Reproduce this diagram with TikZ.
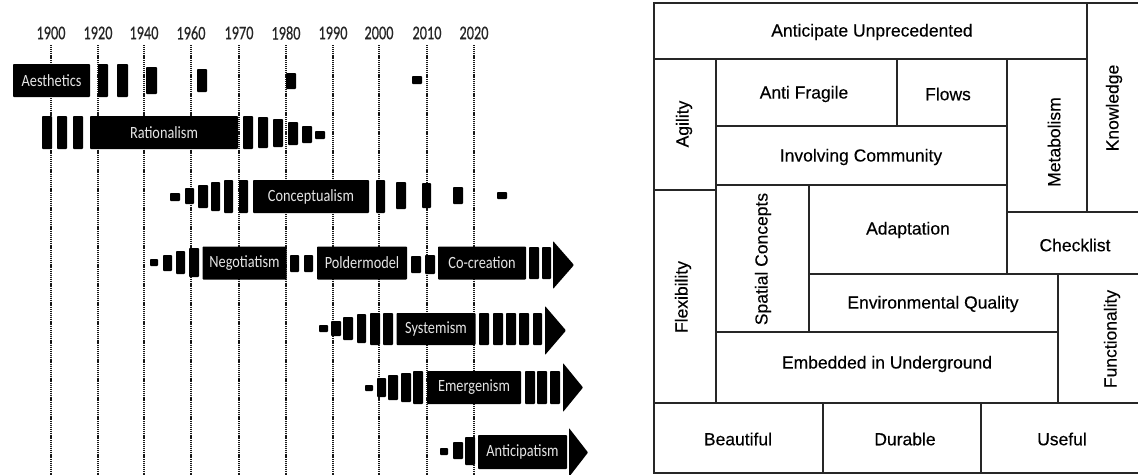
\documentclass[tikz,border=0pt]{standalone}
\usepackage{fontspec}
\setmainfont{Liberation Sans}[FakeBold=0.25]
\newfontfamily\calib{Carlito}
\newfontfamily\calibh{Carlito}[FakeBold=0.6]
\newcommand\tbar[4]{\fill[bkst] (#1,#2) rectangle (#3,#4);}
\newcommand\tarrow[4]{\fill[bkst] (#1,#2) -- (#3,{(#2+#4)/2}) -- (#1,#4) -- cycle;}
\newcommand\tallb[1]{\scalebox{1}[1.2]{#1}}
\newcommand\tally[1]{\scalebox{1}[1.35]{#1}}
\begin{document}
\begin{tikzpicture}[
  x=1pt, y=-1pt,
  bkst/.style={fill=black, rounded corners=0.8pt},
  lbox/.style={fill=black, rounded corners=0.8pt, inner sep=0pt, text=white!90!black,
    font=\calib\fontsize{14.3}{16}\selectfont},
  yr/.style={font=\calibh\fontsize{14.3}{16}\selectfont, text=black!85, inner sep=0pt},
  gridline/.style={black!90, line width=1.5pt, dash pattern=on 1.1pt off 0.8pt},
  cell/.style={draw=black!85, line width=1.1pt},
  lab/.style={font=\fontsize{17.5}{20}\selectfont, text=black, inner sep=0pt},
]
\useasboundingbox (0,0) rectangle (1138,474);
\clip (0,0) rectangle (1138,474);
\fill[white] (0,0) rectangle (1138,474);

% ---------- timeline: years and dotted lines ----------
\foreach \yy/\xx in {1900/51,1920/98,1940/144,1960/191,1970/239,1980/286,1990/333,2000/379,2010/427,2020/474}{
  \node[yr] (y\yy) at (\xx,33) {\tally{\yy}};
  \draw[gridline] (\xx,45) -- (\xx,476);
}

% ---------- row 1: Aesthetics ----------
\node[lbox, minimum width=77pt, minimum height=33pt] (aes) at (51.5,80.5) {\tallb{Aesthetics}};
\tbar{98}{64}{108}{97}
\tbar{117}{64}{128}{97}
\tbar{146}{67}{157}{94}
\tbar{197}{69}{207}{92}
\tbar{286}{73}{296}{89}
\tbar{412}{76}{422}{84}

% ---------- row 2: Rationalism ----------
\tbar{42}{116}{52}{149}
\tbar{57}{116}{67}{149}
\tbar{73}{116}{83}{149}
\node[lbox, minimum width=148pt, minimum height=33pt] (rat) at (164,132.5) {\tallb{Rationalism}};
\tbar{243}{116}{253}{149}
\tbar{258}{117}{268}{148}
\tbar{273}{119}{283}{147}
\tbar{288}{122}{298}{145}
\tbar{302}{126}{312}{143}
\tbar{315}{131}{325}{139}

% ---------- row 3: Conceptualism ----------
\tbar{170}{193}{180}{201}
\tbar{185}{188}{194}{204}
\tbar{198}{185}{208}{208}
\tbar{211}{182}{220}{211}
\tbar{224}{180}{233}{213}
\tbar{239}{180}{248}{213}
\node[lbox, minimum width=116pt, minimum height=33pt] (con) at (311,196.5) {\tallb{Conceptualism}};
\tbar{376}{180}{385}{213}
\tbar{396}{182}{406}{209}
\tbar{422}{183}{431}{208}
\tbar{453}{187}{463}{204}
\tbar{497}{192}{507}{199}

% ---------- row 4: Negotiatism / Poldermodel / Co-creation ----------
\tbar{150}{259}{158}{266}
\tbar{163}{255}{172}{271}
\tbar{176}{251}{185}{274}
\tbar{189}{248}{199}{277}
\node[lbox, minimum width=84pt, minimum height=33pt] (neg) at (244.5,263) {\tallb{Negotiatism}};
\tbar{290}{255}{299}{272}
\tbar{304}{255}{313}{272}
\node[lbox, minimum width=90pt, minimum height=33pt] (pol) at (362,263) {\tallb{Poldermodel}};
\tbar{411}{256}{421}{273}
\tbar{425}{255}{435}{274}
\node[lbox, minimum width=88pt, minimum height=33pt] (cocr) at (482,263) {\tallb{Co-creation}};
\tbar{529}{247}{539}{279}
\tbar{542}{247}{551}{279}
\tarrow{553}{241}{574}{289}

% ---------- row 5: Systemism ----------
\tbar{319}{325}{328}{332}
\tbar{331}{321}{341}{336}
\tbar{343}{317}{353}{340}
\tbar{357}{314}{366}{343}
\tbar{370}{313}{380}{345}
\tbar{383}{313}{393}{345}
\node[lbox, minimum width=79pt, minimum height=32pt] (sys) at (436,329) {\tallb{Systemism}};
\tbar{479}{313}{489}{345}
\tbar{493}{313}{503}{345}
\tbar{506}{313}{516}{345}
\tbar{519}{313}{529}{345}
\tbar{533}{313}{542}{345}
\tarrow{545}{306}{566}{355}

% ---------- row 6: Emergenism ----------
\tbar{365}{385}{373}{391}
\tbar{377}{378}{386}{397}
\tbar{388}{375}{398}{400}
\tbar{401}{373}{411}{402}
\tbar{413}{371}{423}{404}
\node[lbox, minimum width=94pt, minimum height=33pt] (eme) at (474,387.5) {\tallb{Emergenism}};
\tbar{525}{371}{535}{404}
\tbar{537}{371}{547}{404}
\tbar{550}{371}{560}{404}
\tarrow{563}{363}{583}{412}

% ---------- row 7: Anticipatism ----------
\tbar{440}{448}{448}{455}
\tbar{453}{442}{463}{459}
\tbar{465}{437}{475}{465}
\node[lbox, minimum width=89pt, minimum height=34pt] (ant) at (522.5,452) {\tallb{Anticipatism}};
\tarrow{569}{428}{588}{477}

% ---------- treemap ----------
\draw[cell] (654,3) rectangle (1087,59);
\draw[cell] (1087,3) rectangle (1150,212);
\draw[cell] (654,59) rectangle (716,190);
\draw[cell] (716,59) rectangle (897,126);
\draw[cell] (897,59) rectangle (1007,126);
\draw[cell] (716,126) rectangle (1007,185);
\draw[cell] (1007,59) rectangle (1087,212);
\draw[cell] (654,190) rectangle (716,403);
\draw[cell] (716,185) rectangle (809,332);
\draw[cell] (809,185) rectangle (1007,274);
\draw[cell] (1007,212) rectangle (1150,274);
\draw[cell] (809,274) rectangle (1058,332);
\draw[cell] (1058,274) rectangle (1150,403);
\draw[cell] (716,332) rectangle (1058,403);
\draw[cell] (654,403) rectangle (823,473);
\draw[cell] (823,403) rectangle (981,473);
\draw[cell] (981,403) rectangle (1150,473);

\node[lab] (t1) at (872,32) {Anticipate Unprecedented};
\node[lab, rotate=90] (t2) at (1114,108) {Knowledge};
\node[lab, rotate=90] (t3) at (684,124) {Agility};
\node[lab] (t4) at (804,94) {Anti Fragile};
\node[lab] (t5) at (948,94) {Flows};
\node[lab] (t6) at (861,157) {Involving Community};
\node[lab, rotate=90] (t7) at (1054,142) {Metabolism};
\node[lab, rotate=90] (t8) at (683,297) {Flexibility};
\node[lab, rotate=90] (t9) at (763,259) {Spatial Concepts};
\node[lab] (t10) at (908,230) {Adaptation};
\node[lab] (t11) at (1075,245) {Checklist};
\node[lab] (t12) at (933,304) {Environmental Quality};
\node[lab, rotate=90] (t13) at (1112,339) {Functionality};
\node[lab] (t14) at (887,364) {Embedded in Underground};
\node[lab] (t15) at (738,439) {Beautiful};
\node[lab] (t16) at (905,439) {Durable};
\node[lab] (t17) at (1062,439) {Useful};
\end{tikzpicture}
\end{document}
